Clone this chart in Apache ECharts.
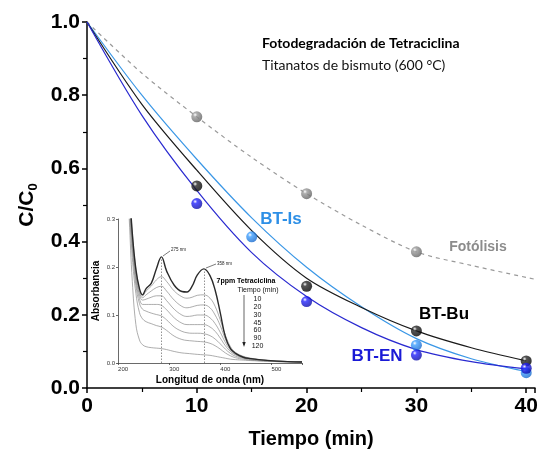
<!DOCTYPE html>
<html><head><meta charset="utf-8">
<script src="https://cdn.jsdelivr.net/npm/echarts@6/dist/echarts.min.js"></script>
<style>html,body{margin:0;padding:0;background:#fff}#c{width:542px;height:454px}</style>
</head><body><div id="c"></div>
<script>
// ---- main chart data ----
const xTicks = [0, 10, 20, 30, 40];
// measured points (time min, C/C0)
const fotolisisPts = [[0, 1.0], [10, 0.741], [20, 0.531], [30, 0.372]];
const btBuPts = [[10, 0.552], [20, 0.278], [30, 0.156], [40, 0.074]];
const btEnPts = [[10, 0.504], [20, 0.236], [30, 0.090], [40, 0.054]];
const btIsPts = [[15, 0.413], [30, 0.117], [40, 0.042]];
// fitted curves
const fitT = [0, 5, 10, 15, 20, 25, 30, 35, 40];
const fotolisisFit = [[0, 1.0], [5, 0.86], [10, 0.741], [15, 0.63], [20, 0.531], [25, 0.445], [30, 0.372], [35, 0.335], [40.8, 0.297]];
const btBuFit = [1.0, 0.775, 0.595, 0.43, 0.30, 0.22, 0.156, 0.11, 0.074];
const btIsFit = [1.0, 0.80, 0.625, 0.465, 0.33, 0.222, 0.135, 0.08, 0.045];
const btEnFit = [1.0, 0.745, 0.54, 0.37, 0.25, 0.165, 0.105, 0.072, 0.052];

// ---- inset spectra data ----
const wl = [205, 212, 218, 225, 232, 238, 245, 255, 265, 275, 285, 300, 315, 325, 335, 345, 358, 370, 380, 390, 400, 410, 420, 435, 450, 475, 500, 550];
const spec0   = [0.50, 0.37, 0.27, 0.195, 0.155, 0.142, 0.155, 0.166, 0.196, 0.221, 0.192, 0.162, 0.149, 0.148, 0.160, 0.183, 0.196, 0.182, 0.152, 0.105, 0.055, 0.030, 0.020, 0.012, 0.009, 0.006, 0.004, 0.002];
const spec10  = [0.50, 0.37, 0.27, 0.195, 0.152, 0.140, 0.150, 0.160, 0.173, 0.180, 0.170, 0.150, 0.138, 0.135, 0.137, 0.141, 0.142, 0.135, 0.118, 0.090, 0.058, 0.034, 0.022, 0.014, 0.010, 0.006, 0.004, 0.002];
const spec20  = [0.50, 0.36, 0.26, 0.185, 0.147, 0.136, 0.142, 0.150, 0.157, 0.160, 0.150, 0.131, 0.118, 0.115, 0.117, 0.120, 0.121, 0.115, 0.100, 0.078, 0.050, 0.030, 0.020, 0.013, 0.009, 0.006, 0.004, 0.002];
const spec30  = [0.50, 0.36, 0.255, 0.180, 0.142, 0.131, 0.133, 0.137, 0.140, 0.140, 0.130, 0.112, 0.100, 0.097, 0.098, 0.100, 0.100, 0.094, 0.082, 0.064, 0.043, 0.027, 0.018, 0.012, 0.009, 0.006, 0.004, 0.002];
const spec45  = [0.50, 0.35, 0.25, 0.172, 0.134, 0.122, 0.122, 0.122, 0.122, 0.120, 0.111, 0.094, 0.083, 0.080, 0.080, 0.080, 0.080, 0.075, 0.066, 0.052, 0.036, 0.024, 0.017, 0.011, 0.008, 0.005, 0.004, 0.002];
const spec60  = [0.50, 0.34, 0.24, 0.162, 0.124, 0.112, 0.108, 0.104, 0.101, 0.098, 0.090, 0.075, 0.066, 0.063, 0.062, 0.062, 0.061, 0.057, 0.050, 0.040, 0.029, 0.020, 0.014, 0.010, 0.007, 0.005, 0.003, 0.002];
const spec90  = [0.50, 0.33, 0.22, 0.145, 0.105, 0.092, 0.086, 0.082, 0.078, 0.075, 0.068, 0.056, 0.049, 0.047, 0.046, 0.045, 0.044, 0.041, 0.036, 0.029, 0.021, 0.015, 0.011, 0.008, 0.006, 0.004, 0.003, 0.002];
const spec120 = [0.45, 0.30, 0.17, 0.080, 0.048, 0.038, 0.034, 0.032, 0.031, 0.030, 0.028, 0.024, 0.021, 0.020, 0.019, 0.018, 0.017, 0.016, 0.014, 0.012, 0.010, 0.008, 0.007, 0.006, 0.005, 0.004, 0.003, 0.002];
const insetXTicks = [200, 300, 400, 500];
const insetYTicks = [0.0, 0.1, 0.2, 0.3];
const peakMarks = [[275, 0.221], [358, 0.196]];
const tiempoList = ['10', '20', '30', '45', '60', '90', '120'];

function sphere(c1, c2) {
  return {type: 'radial', x: 0.35, y: 0.32, r: 0.75,
    colorStops: [{offset: 0, color: '#ffffff'}, {offset: 0.25, color: c1}, {offset: 1, color: c2}]};
}
const FONT = '"Liberation Sans", Arial, sans-serif';

const chart = echarts.init(document.getElementById('c'), null, {renderer: 'canvas'});
const pair = (xs, ys) => xs.map((x, i) => [x, ys[i]]);

const specStyle = (w, c) => ({type: 'line', xAxisIndex: 1, yAxisIndex: 1, symbol: 'none', smooth: 0.4, clip: true,
  lineStyle: {width: w, color: c}, z: 3, silent: true});

const option = {
  animation: false,
  textStyle: {fontFamily: FONT},
  grid: [
    {left: 87, right: 7, top: 22, bottom: 66},
    {left: 118, right: 240, top: 219, bottom: 91}
  ],
  xAxis: [
    {type: 'value', min: 0, max: 40.8, interval: 10, gridIndex: 0,
      axisLine: {lineStyle: {color: '#000', width: 1.5}},
      axisTick: {show: true, length: 5, lineStyle: {color: '#000', width: 1.5}},
      minorTick: {show: true, splitNumber: 2, length: 4, lineStyle: {color: '#000', width: 1.2}},
      splitLine: {show: false},
      axisLabel: {fontSize: 21, fontWeight: 'bold', color: '#000', margin: 8, fontFamily: FONT,
        formatter: v => xTicks.includes(v) ? String(v) : ''},
      name: 'Tiempo (min)', nameLocation: 'middle', nameGap: 41,
      nameTextStyle: {fontSize: 20, fontWeight: 'bold', color: '#000', fontFamily: FONT}},
    {type: 'value', min: 190, max: 550, interval: 100, gridIndex: 1,
      axisLine: {onZero: false, lineStyle: {color: '#444', width: 0.8}},
      axisTick: {length: 2, lineStyle: {color: '#444', width: 0.8}},
      minorTick: {show: false},
      splitLine: {show: false},
      axisLabel: {fontSize: 6, color: '#333', margin: 3, fontFamily: FONT,
        customValues: insetXTicks},
      name: 'Longitud de onda (nm)', nameLocation: 'middle', nameGap: 12,
      nameTextStyle: {fontSize: 10, fontWeight: 'bold', color: '#000', fontFamily: FONT}}
  ],
  yAxis: [
    {type: 'value', min: 0, max: 1.0, interval: 0.2, gridIndex: 0,
      axisLine: {show: true, lineStyle: {color: '#000', width: 1.5}},
      axisTick: {show: true, length: 5, lineStyle: {color: '#000', width: 1.5}},
      minorTick: {show: true, splitNumber: 2, length: 4, lineStyle: {color: '#000', width: 1.2}},
      splitLine: {show: false},
      axisLabel: {fontSize: 21, fontWeight: 'bold', color: '#000', margin: 7, fontFamily: FONT,
        formatter: v => v.toFixed(1)},
      name: '{a|C/C}{b|0}', nameLocation: 'middle', nameGap: 47,
      nameTextStyle: {rich: {
        a: {fontSize: 21, fontWeight: 'bold', color: '#000', fontFamily: FONT},
        b: {fontSize: 13, fontWeight: 'bold', color: '#000', fontFamily: FONT, padding: [12, 0, 0, 0]}}}},
    {type: 'value', min: 0, max: 0.3, interval: 0.1, gridIndex: 1,
      axisLine: {show: true, onZero: false, lineStyle: {color: '#444', width: 0.8}},
      axisTick: {show: true, length: 2, lineStyle: {color: '#444', width: 0.8}},
      splitLine: {show: false},
      axisLabel: {fontSize: 6, color: '#333', margin: 3, fontFamily: FONT, formatter: v => v.toFixed(1)},
      name: 'Absorbancia', nameLocation: 'middle', nameGap: 17,
      nameTextStyle: {fontSize: 10, fontWeight: 'bold', color: '#000', fontFamily: FONT}}
  ],
  series: [
    // inset spectra
    Object.assign(specStyle(0.7, '#8a8a8a'), {data: pair(wl, spec120)}),
    Object.assign(specStyle(0.7, '#8a8a8a'), {data: pair(wl, spec90)}),
    Object.assign(specStyle(0.7, '#8a8a8a'), {data: pair(wl, spec60)}),
    Object.assign(specStyle(0.7, '#8a8a8a'), {data: pair(wl, spec45)}),
    Object.assign(specStyle(0.7, '#8a8a8a'), {data: pair(wl, spec30)}),
    Object.assign(specStyle(0.7, '#8a8a8a'), {data: pair(wl, spec20)}),
    Object.assign(specStyle(0.7, '#8a8a8a'), {data: pair(wl, spec10)}),
    Object.assign(specStyle(1.4, '#2a2a2a'), {data: pair(wl, spec0)}),
    {type: 'line', xAxisIndex: 1, yAxisIndex: 1, symbol: 'none', data: [],
      markLine: {silent: true, symbol: 'none', label: {show: false},
        lineStyle: {type: [1.5, 1.5], color: '#777', width: 0.8},
        data: peakMarks.map(p => [{coord: [p[0], 0]}, {coord: [p[0], p[1]]}])}},
    // main fits
    {type: 'line', data: fotolisisFit, symbol: 'none', smooth: 0.3,
      lineStyle: {color: '#9a9a9a', width: 1.2, type: [4, 4]}, z: 4},
    {type: 'line', data: pair(fitT, btIsFit), symbol: 'none', smooth: 0.3,
      lineStyle: {color: '#3a97e6', width: 1.2}, z: 4},
    {type: 'line', data: pair(fitT, btBuFit), symbol: 'none', smooth: 0.3,
      lineStyle: {color: '#1a1a1a', width: 1.2}, z: 4},
    {type: 'line', data: pair(fitT, btEnFit), symbol: 'none', smooth: 0.3,
      lineStyle: {color: '#2a2ad0', width: 1.2}, z: 4},
    // main points
    {type: 'scatter', data: fotolisisPts.filter(p => p[0] > 0), symbolSize: 11, z: 6,
      itemStyle: {color: sphere('#9a9a9a', '#5e5e5e')}},
    {type: 'scatter', data: btIsPts, symbolSize: 11, z: 6,
      itemStyle: {color: sphere('#3fa0ff', '#1565c8')}},
    {type: 'scatter', data: btBuPts, symbolSize: 11, z: 6,
      itemStyle: {color: sphere('#2a2a2a', '#000000')}},
    {type: 'scatter', data: btEnPts, symbolSize: 11, z: 6,
      itemStyle: {color: sphere('#2525ff', '#0a0aa0')}}
  ],
  graphic: [
    {type: 'text', left: 262, top: 36, style: {text: 'Fotodegradación de Tetraciclina', font: 'bold 14px Lato, "Open Sans", sans-serif', fill: '#000'}},
    {type: 'text', left: 262, top: 58, style: {text: 'Titanatos de bismuto (600 °C)', font: '14px Lato, "Open Sans", sans-serif', fill: '#111'}},
    {type: 'text', x: 281, y: 219, style: {text: 'BT-Is', font: 'bold 17px ' + FONT, fill: '#2d8fe6', align: 'center', verticalAlign: 'middle'}},
    {type: 'text', x: 444, y: 314, style: {text: 'BT-Bu', font: 'bold 17px ' + FONT, fill: '#000', align: 'center', verticalAlign: 'middle'}},
    {type: 'text', x: 377, y: 356, style: {text: 'BT-EN', font: 'bold 17px ' + FONT, fill: '#1a1ad6', align: 'center', verticalAlign: 'middle'}},
    {type: 'text', x: 478, y: 247, style: {text: 'Fotólisis', font: 'bold 14px ' + FONT, fill: '#8c8c8c', align: 'center', verticalAlign: 'middle'}},
    // inset annotations
    {type: 'text', x: 246, y: 281, style: {text: '7ppm Tetraciclina', font: 'bold 7px ' + FONT, fill: '#000', align: 'center', verticalAlign: 'middle'}},
    {type: 'text', x: 258, y: 290.5, style: {text: 'Tiempo (min)', font: '7px ' + FONT, fill: '#111', align: 'center', verticalAlign: 'middle'}},
    ...tiempoList.map((t, i) => ({type: 'text', x: 257.5, y: 299.3 + i * 7.8,
      style: {text: t, font: '7px ' + FONT, fill: '#111', align: 'center', verticalAlign: 'middle'}})),
    {type: 'line', shape: {x1: 244, y1: 295, x2: 244, y2: 345}, style: {stroke: '#222', lineWidth: 0.7}},
    {type: 'polygon', shape: {points: [[242.3, 342], [245.7, 342], [244, 347]]}, style: {fill: '#222'}},
    {type: 'text', x: 171, y: 250, style: {text: '275 nm', font: '4.5px ' + FONT, fill: '#222', verticalAlign: 'middle'}},
    {type: 'line', shape: {x1: 163, y1: 256, x2: 170, y2: 251}, style: {stroke: '#222', lineWidth: 0.6}},
    {type: 'text', x: 217, y: 263.5, style: {text: '358 nm', font: '4.5px ' + FONT, fill: '#222', verticalAlign: 'middle'}},
    {type: 'line', shape: {x1: 206, y1: 268, x2: 216, y2: 264}, style: {stroke: '#222', lineWidth: 0.6}}
  ]
};
chart.setOption(option);
</script></body></html>
